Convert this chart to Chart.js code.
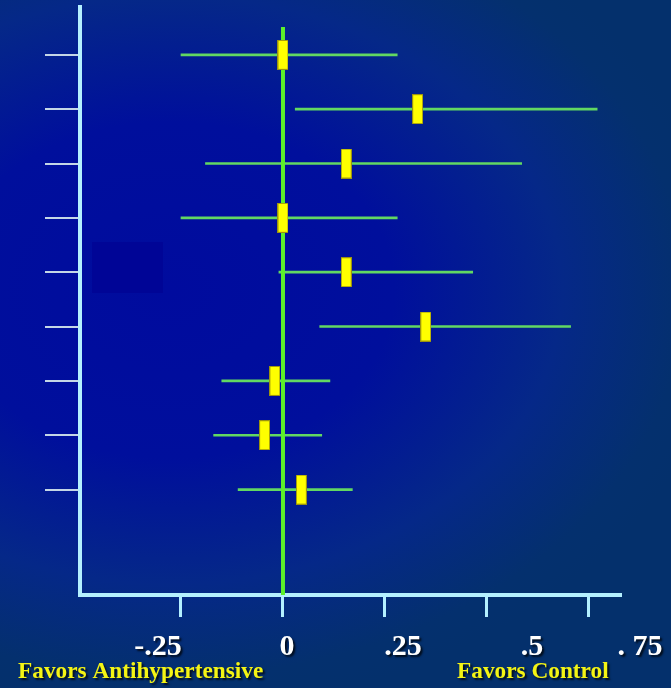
<!DOCTYPE html>
<html>
<head>
<meta charset="utf-8">
<script src="https://cdn.jsdelivr.net/npm/chart.js@4.4.1/dist/chart.umd.min.js"></script>
<style>
  html, body { margin: 0; padding: 0; }
  body {
    width: 671px; height: 688px; overflow: hidden; position: relative;
    background: radial-gradient(ellipse 560px 420px at 170px 290px,
      #000b9e 0%, #000f9c 40%, #052888 70%, #04306e 92%, #04306c 100%);
  }
  #shade { position: absolute; left: 92px; top: 242px; width: 71px; height: 51px; background: #000596; }
  #myChart { position: absolute; left: 0; top: 0; }
</style>
</head>
<body>
<div id="shade"></div>
<canvas id="myChart" width="671" height="688"></canvas>
<script>
// forest plot data (one row per study, top to bottom)
const rows = [1, 2, 3, 4, 5, 6, 7, 8, 9];
const estimates = [0, 0.33, 0.155, 0, 0.155, 0.35, -0.02, -0.045, 0.045];
const lower = [-0.25, 0.03, -0.19, -0.25, -0.01, 0.09, -0.15, -0.17, -0.11];
const upper = [0.28, 0.77, 0.585, 0.28, 0.465, 0.705, 0.115, 0.095, 0.17];

const xTicks = [-0.25, 0, 0.25, 0.5, 0.75];
const xTickLabels = ['-.25', '0', '.25', '.5', '. 75'];
const leftTitle = 'Favors Antihypertensive';
const rightTitle = 'Favors Control';

// range of the axes
const xMin = -0.4975, xMax = 0.826;
const yMin = 0.12, yMax = 10.94;
const zeroLineTop = 0.49;

// labels on the slide sit a bit right of the tick marks
const labelShift = [-23, 4, 18, 45, 51];

// yellow box used as the point style
const marker = document.createElement('canvas');
marker.width = 11;
marker.height = 30;
const mctx = marker.getContext('2d');
mctx.fillStyle = '#ffff00';
mctx.fillRect(0, 0, 11, 30);
mctx.strokeStyle = 'rgba(130, 120, 20, 0.8)';
mctx.lineWidth = 1;
mctx.strokeRect(0.5, 0.5, 10, 29);

// draws the tick labels and the two captions under the axis
const axisText = {
  id: 'axisText',
  afterDraw(chart) {
    const { ctx, scales: { x } } = chart;
    ctx.save();
    ctx.shadowColor = 'rgba(0, 0, 0, 0.75)';
    ctx.shadowOffsetX = 2;
    ctx.shadowOffsetY = 2;
    ctx.shadowBlur = 2;
    ctx.textBaseline = 'alphabetic';

    ctx.font = 'bold 30px "Liberation Serif", serif';
    ctx.fillStyle = '#ffffff';
    ctx.textAlign = 'center';
    xTicks.forEach((v, i) => {
      ctx.fillText(xTickLabels[i], x.getPixelForValue(v) + labelShift[i], 655);
    });

    ctx.font = 'bold 23.3px "Liberation Serif", serif';
    ctx.fillStyle = '#f4f414';
    ctx.textAlign = 'left';
    ctx.fillText(leftTitle, 18, 678);
    ctx.fillText(rightTitle, 457, 678);
    ctx.restore();
  }
};

const config = {
  type: 'scatter',
  data: {
    datasets: [
      {
        type: 'bar',
        indexAxis: 'y',
        data: rows.map((r, i) => ({ y: r, x: [lower[i], upper[i]] })),
        backgroundColor: '#62d862',
        borderWidth: 0,
        barThickness: 2,
        order: 3
      },
      {
        type: 'line',
        data: [{ x: 0, y: zeroLineTop }, { x: 0, y: yMax }],
        borderColor: '#5cf02a',
        borderWidth: 4,
        pointRadius: 0,
        order: 2
      },
      {
        type: 'scatter',
        data: rows.map((r, i) => ({ x: estimates[i], y: r })),
        pointStyle: marker,
        pointRadius: 6,
        order: 1
      }
    ]
  },
  options: {
    responsive: false,
    animation: false,
    devicePixelRatio: 1,
    layout: { padding: { left: 0, top: 5, right: 51, bottom: 0 } },
    plugins: {
      legend: { display: false },
      tooltip: { enabled: false }
    },
    scales: {
      x: {
        type: 'linear',
        min: xMin,
        max: xMax,
        offset: false,
        afterBuildTicks: (scale) => { scale.ticks = xTicks.map(v => ({ value: v })); },
        afterFit: (scale) => { scale.height = 93; },
        ticks: { display: false },
        border: { color: '#b4f0ff', width: 4 },
        grid: { offset: false, drawOnChartArea: false, drawTicks: true, tickLength: 22, color: '#b4f0ff', lineWidth: 3 }
      },
      y: {
        type: 'linear',
        reverse: true,
        min: yMin,
        max: yMax,
        offset: false,
        afterBuildTicks: (scale) => { scale.ticks = rows.map(v => ({ value: v })); },
        afterFit: (scale) => { scale.width = 80; },
        ticks: { display: false },
        border: { color: '#b4f0ff', width: 4 },
        grid: { offset: false, drawOnChartArea: false, drawTicks: true, tickLength: 35, color: '#c4d6e6', lineWidth: 2 }
      }
    }
  },
  plugins: [axisText]
};

const myChart = new Chart(document.getElementById('myChart'), config);
</script>
</body>
</html>
